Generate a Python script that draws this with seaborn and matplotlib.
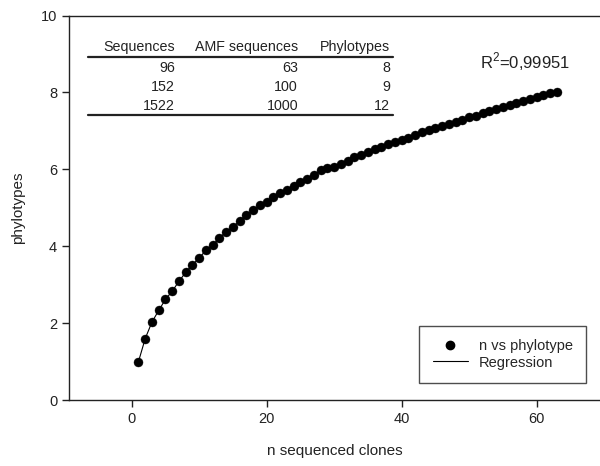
import numpy as np
import pandas as pd
import seaborn as sns
import matplotlib.pyplot as plt
from matplotlib.lines import Line2D

# rarefaction data
n_clones = list(range(1, 64))
phylotypes = [
    1.00, 1.60, 2.03, 2.33, 2.62, 2.83, 3.09, 3.32, 3.52, 3.69,
    3.90, 4.03, 4.21, 4.38, 4.50, 4.66, 4.82, 4.93, 5.06, 5.14,
    5.27, 5.38, 5.47, 5.57, 5.67, 5.75, 5.86, 5.97, 6.04, 6.07,
    6.13, 6.22, 6.31, 6.38, 6.46, 6.53, 6.58, 6.66, 6.70, 6.76,
    6.82, 6.89, 6.97, 7.02, 7.07, 7.13, 7.18, 7.23, 7.29, 7.35,
    7.40, 7.46, 7.51, 7.57, 7.63, 7.68, 7.73, 7.78, 7.83, 7.89,
    7.94, 7.98, 8.02,
]

# inset table
table_header = ["Sequences", "AMF sequences", "Phylotypes"]
table_sequences = ["96", "152", "1522"]
table_amf = ["63", "100", "1000"]
table_phylo = ["8", "9", "12"]

r2_text = "R$^2$=0,99951"

df = pd.DataFrame({"n": n_clones, "phylo": phylotypes})

sns.set_style("ticks")
plt.rcParams["font.family"] = ["Liberation Sans", "DejaVu Sans"]
plt.rcParams["mathtext.fontset"] = "custom"
plt.rcParams["mathtext.rm"] = "Liberation Sans"

fig = plt.figure(figsize=(6.0, 4.66), dpi=100)
ax = fig.add_axes([0.115, 0.1416, 0.885, 0.825])

sns.lineplot(data=df, x="n", y="phylo", ax=ax, color="black", linewidth=0.8)
sns.scatterplot(data=df, x="n", y="phylo", ax=ax, color="black", s=42,
                marker="o", edgecolor="black", linewidth=0.3, zorder=3)

ax.set_xlim(-9.3, 69.4)
ax.set_ylim(0, 10)
ax.set_xticks([0, 20, 40, 60])
ax.set_yticks([0, 2, 4, 6, 8, 10])
ax.spines["right"].set_visible(False)
for sp in ["left", "bottom", "top"]:
    ax.spines[sp].set_color("#222222")
    ax.spines[sp].set_linewidth(1.0)
ax.tick_params(direction="out", length=5, width=1, color="#222222",
               labelsize=10.5, labelcolor="#222222")
ax.set_xlabel("n sequenced clones", fontsize=11, color="#222222", labelpad=13)
ax.set_ylabel("phylotypes", fontsize=11, color="#222222", labelpad=11)

# table drawn in axes coords via pixel-based positions
def px(x, y):
    return ((x - 69) / 531.0, (400 - y) / 384.5)

col_right = [175, 298, 390]
row_y = [47, 68, 87, 106]
for xr, head in zip(col_right, table_header):
    ax.text(*px(xr, row_y[0]), head, transform=ax.transAxes, ha="right",
            va="center", fontsize=10.3, color="#222222")
for i in range(3):
    for xr, col in zip(col_right, [table_sequences, table_amf, table_phylo]):
        ax.text(*px(xr, row_y[i + 1]), col[i], transform=ax.transAxes,
                ha="right", va="center", fontsize=10.3, color="#222222")
for yl in [57, 115]:
    x0, y0 = px(88, yl)
    x1, _ = px(393, yl)
    ax.plot([x0, x1], [y0, y0], transform=ax.transAxes, color="#222222",
            linewidth=1.6, clip_on=False)

ax.text(*px(525, 62), r2_text, transform=ax.transAxes, ha="center",
        va="center", fontsize=12, color="#222222")

handles = [
    Line2D([], [], color="black", marker="o", linestyle="none", markersize=6),
    Line2D([], [], color="black", linewidth=0.8),
]
leg = ax.legend(handles, ["n vs phylotype", "Regression"], loc="lower right",
                bbox_to_anchor=(0.988, 0.026), fontsize=10.5, frameon=True,
                fancybox=False, edgecolor="#222222", handlelength=2.4,
                handletextpad=0.8, borderpad=0.9, labelspacing=0.15)
leg.get_frame().set_linewidth(1.0)

fig.savefig("out.png", dpi=100)
